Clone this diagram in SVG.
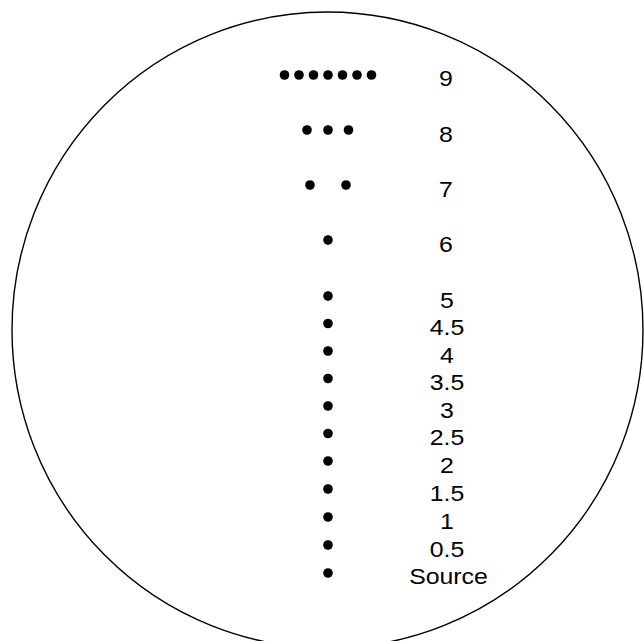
<svg xmlns="http://www.w3.org/2000/svg" width="644" height="641" viewBox="0 0 644 641">
<style>
.d{fill:#000}
.t{font-family:"Liberation Sans",Arial,sans-serif;font-size:22.6px;fill:#000;text-anchor:middle}
</style>
<rect width="644" height="641" fill="#fff"/>
<ellipse cx="327.5" cy="330" rx="315.5" ry="318" fill="none" stroke="#000" stroke-width="1.4"/>
<g id="row9">
<circle class="d" cx="284.5" cy="75" r="4.8"/><circle class="d" cx="299" cy="75" r="4.8"/><circle class="d" cx="313.5" cy="75" r="4.8"/><circle class="d" cx="328" cy="75" r="4.8"/><circle class="d" cx="342.5" cy="75" r="4.8"/><circle class="d" cx="357" cy="75" r="4.8"/><circle class="d" cx="371.5" cy="75" r="4.8"/>
<text class="t" transform="translate(446,85.5) scale(1.1,1)">9</text>
</g>
<g id="row8">
<circle class="d" cx="307" cy="130" r="4.8"/><circle class="d" cx="328" cy="130" r="4.8"/><circle class="d" cx="348.5" cy="130" r="4.8"/>
<text class="t" transform="translate(446,141.5) scale(1.1,1)">8</text>
</g>
<g id="row7">
<circle class="d" cx="310" cy="185" r="4.8"/><circle class="d" cx="346" cy="185" r="4.8"/>
<text class="t" transform="translate(446,196.5) scale(1.1,1)">7</text>
</g>
<g id="row6">
<circle class="d" cx="328" cy="240" r="4.8"/>
<text class="t" transform="translate(446,251.5) scale(1.1,1)">6</text>
</g>
<g id="row5"><circle class="d" cx="328" cy="296" r="4.8"/><text class="t" transform="translate(447,307.5) scale(1.1,1)">5</text></g>
<g id="row4_5"><circle class="d" cx="328" cy="323.5" r="4.8"/><text class="t" transform="translate(447,335) scale(1.1,1)">4.5</text></g>
<g id="row4"><circle class="d" cx="328" cy="351" r="4.8"/><text class="t" transform="translate(447,362.5) scale(1.1,1)">4</text></g>
<g id="row3_5"><circle class="d" cx="328" cy="378.5" r="4.8"/><text class="t" transform="translate(447,390) scale(1.1,1)">3.5</text></g>
<g id="row3"><circle class="d" cx="328" cy="406" r="4.8"/><text class="t" transform="translate(447,417.5) scale(1.1,1)">3</text></g>
<g id="row2_5"><circle class="d" cx="328" cy="433.5" r="4.8"/><text class="t" transform="translate(447,445) scale(1.1,1)">2.5</text></g>
<g id="row2"><circle class="d" cx="328" cy="461" r="4.8"/><text class="t" transform="translate(447,472.5) scale(1.1,1)">2</text></g>
<g id="row1_5"><circle class="d" cx="328" cy="489" r="4.8"/><text class="t" transform="translate(447,500.5) scale(1.1,1)">1.5</text></g>
<g id="row1"><circle class="d" cx="328" cy="517" r="4.8"/><text class="t" transform="translate(447,528.5) scale(1.1,1)">1</text></g>
<g id="row0_5"><circle class="d" cx="328" cy="545" r="4.8"/><text class="t" transform="translate(447,556.5) scale(1.1,1)">0.5</text></g>
<g id="source"><circle class="d" cx="328" cy="573" r="4.8"/><text class="t" transform="translate(448.5,584) scale(1.1,1)">Source</text></g>
<g id="connectors"/>
</svg>
